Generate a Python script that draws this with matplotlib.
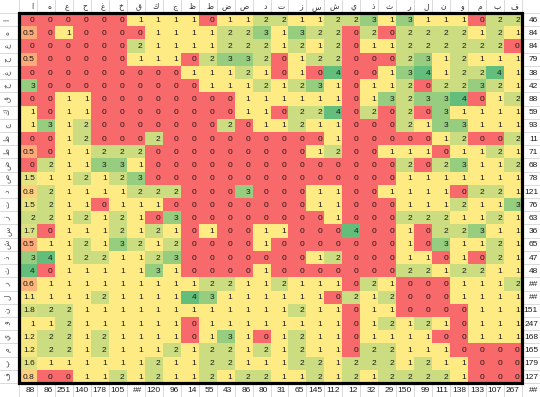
import numpy as np
import matplotlib
matplotlib.use("Agg")
import matplotlib.pyplot as plt
from matplotlib.colors import LinearSegmentedColormap, TwoSlopeNorm
from matplotlib.patches import Rectangle

col_letters = ['ا', 'ه', 'ع', 'ح', 'غ', 'خ', 'ق', 'ك', 'ج', 'ظ', 'ط', 'ض', 'ص', 'د',
               'ت', 'ز', 'س', 'ش', 'ي', 'ذ', 'ث', 'ر', 'ل', 'ن', 'و', 'م', 'ب', 'ف']
row_letters = ['ا', 'ه', 'ع', 'ح', 'غ', 'خ', 'ق', 'ك', 'ج', 'ظ', 'ط', 'ض', 'ص', 'د',
               'ت', 'ز', 'س', 'ش', 'ذ', 'ث', 'ر', 'ل', 'ن', 'و', 'ي', 'م', 'ب', 'ف']

counts = [
    [0, 0, 0, 0, 0, 0, 1, 1, 1, 1, 0, 1, 1, 2, 2, 1, 1, 2, 2, 3, 1, 3, 1, 1, 1, 0, 2, 2],
    [0.5, 0, 1, 0, 0, 0, 0, 1, 1, 1, 1, 2, 2, 3, 1, 3, 2, 2, 0, 2, 0, 2, 2, 2, 2, 1, 2, 1],
    [0, 0, 0, 0, 0, 0, 2, 1, 1, 1, 1, 2, 2, 2, 1, 2, 1, 2, 0, 1, 1, 2, 2, 2, 2, 2, 2, 0],
    [0.5, 0, 0, 0, 0, 0, 1, 1, 1, 0, 2, 3, 3, 2, 0, 1, 2, 2, 0, 0, 0, 2, 3, 1, 2, 1, 1, 1],
    [0, 0, 0, 0, 0, 0, 0, 0, 0, 1, 1, 1, 2, 1, 0, 1, 0, 4, 0, 0, 1, 3, 4, 1, 2, 2, 4, 1],
    [3, 0, 0, 0, 0, 0, 0, 0, 0, 0, 1, 1, 1, 2, 1, 2, 3, 1, 0, 1, 1, 2, 0, 2, 2, 3, 2, 1],
    [0, 0, 1, 1, 0, 0, 0, 0, 0, 0, 0, 0, 1, 1, 1, 1, 1, 1, 0, 1, 3, 2, 3, 3, 4, 0, 1, 2],
    [1, 0, 1, 1, 0, 0, 0, 0, 0, 0, 0, 0, 1, 1, 0, 2, 2, 4, 0, 2, 0, 2, 0, 3, 1, 1, 1, 1],
    [1, 3, 1, 2, 0, 0, 0, 0, 0, 0, 0, 2, 0, 1, 1, 2, 1, 1, 0, 0, 0, 2, 1, 3, 3, 1, 1, 1],
    [0, 0, 1, 2, 0, 0, 0, 2, 0, 0, 0, 0, 0, 0, 0, 0, 0, 1, 0, 0, 0, 0, 0, 1, 2, 0, 0, 2],
    [0.5, 0, 1, 1, 2, 2, 2, 0, 0, 0, 0, 0, 0, 0, 0, 0, 1, 2, 0, 0, 1, 1, 1, 0, 1, 1, 2, 1],
    [0, 2, 1, 1, 3, 3, 1, 0, 0, 0, 0, 0, 0, 0, 0, 0, 0, 0, 0, 0, 0, 2, 0, 2, 3, 1, 1, 2],
    [1.5, 1, 1, 2, 1, 2, 3, 0, 0, 0, 0, 0, 0, 0, 0, 0, 0, 0, 0, 0, 0, 1, 1, 1, 1, 1, 1, 1],
    [0.8, 2, 1, 1, 1, 1, 2, 2, 2, 0, 0, 0, 3, 0, 0, 0, 1, 1, 0, 0, 1, 1, 1, 1, 0, 2, 2, 1],
    [1.5, 2, 1, 1, 0, 1, 1, 1, 0, 0, 0, 0, 0, 0, 0, 0, 1, 1, 0, 0, 0, 1, 1, 1, 2, 1, 1, 3],
    [2, 2, 1, 2, 1, 2, 1, 0, 3, 0, 0, 0, 0, 0, 0, 0, 0, 1, 0, 0, 0, 2, 2, 2, 1, 1, 2, 1],
    [1.7, 0, 1, 1, 1, 2, 1, 2, 1, 0, 1, 0, 0, 1, 1, 0, 0, 0, 4, 0, 0, 1, 0, 2, 2, 3, 1, 1],
    [0.5, 1, 1, 2, 1, 3, 2, 1, 2, 0, 0, 0, 0, 1, 0, 0, 0, 0, 0, 0, 0, 1, 0, 3, 1, 1, 2, 1],
    [3, 4, 1, 2, 2, 1, 1, 2, 3, 0, 0, 0, 0, 0, 0, 0, 1, 2, 0, 0, 0, 1, 1, 0, 1, 0, 2, 1],
    [4, 0, 1, 1, 1, 1, 1, 3, 1, 0, 0, 0, 0, 1, 0, 0, 0, 0, 0, 0, 0, 2, 2, 1, 2, 2, 1, 1],
    [0.6, 1, 1, 1, 1, 1, 1, 1, 1, 1, 2, 2, 1, 1, 2, 1, 1, 1, 0, 2, 1, 0, 0, 0, 1, 1, 1, 2],
    [1.1, 1, 1, 1, 2, 1, 1, 1, 1, 4, 3, 1, 1, 1, 1, 1, 1, 0, 2, 1, 2, 0, 0, 0, 1, 1, 1, 1],
    [1.8, 2, 2, 1, 1, 1, 1, 1, 1, 1, 1, 1, 1, 1, 1, 2, 1, 1, 0, 1, 1, 0, 0, 0, 0, 1, 1, 1],
    [1, 1, 2, 1, 1, 1, 1, 1, 1, 0, 1, 1, 1, 1, 1, 1, 1, 1, 0, 1, 2, 1, 2, 1, 0, 1, 1, 1],
    [1.2, 2, 2, 1, 2, 1, 1, 1, 1, 0, 1, 3, 1, 0, 1, 2, 1, 1, 0, 1, 1, 1, 1, 0, 0, 1, 1, 1],
    [1.2, 2, 2, 1, 2, 1, 1, 1, 2, 1, 2, 2, 1, 2, 1, 2, 1, 1, 0, 2, 2, 1, 1, 1, 0, 0, 0, 0],
    [1.6, 1, 1, 1, 1, 1, 1, 2, 1, 1, 2, 2, 1, 1, 1, 2, 2, 1, 2, 2, 2, 1, 2, 1, 1, 0, 0, 0],
    [0.8, 0, 0, 1, 1, 2, 1, 2, 1, 1, 2, 1, 2, 2, 1, 1, 2, 1, 2, 1, 2, 2, 2, 2, 1, 0, 0, 0],
]

row_totals = ['46', '84', '84', '79', '38', '42', '88', '59', '93', '11', '71', '68', '78', '121',
              '76', '63', '36', '65', '47', '48', '##', '##', '151', '247', '168', '165', '179', '127']
col_totals = ['88', '86', '251', '140', '178', '105', '##', '120', '96', '14', '55', '43', '86', '80',
              '31', '65', '145', '112', '12', '32', '29', '150', '99', '111', '138', '133', '107', '267']
corner_total = '##'

vals = np.array(counts, dtype=float)
n_rows, n_cols = vals.shape

# spreadsheet geometry (pixels)
cw = 503 / n_cols
rh = 370 / n_rows
left = 19 / cw
right = 18 / cw
top = 13 / rh
bottom = 14 / rh

fig = plt.figure(figsize=(5.4, 3.97), dpi=100)
ax = fig.add_axes([0, 0, 1, 1])
ax.set_xlim(-left, n_cols + right)
ax.set_ylim(n_rows + bottom, -top)
ax.axis('off')

# light excel gridlines
grid_color = '#d4d4d4'
for x in range(0, n_cols + 1):
    ax.plot([x, x], [-top, n_rows + bottom], color=grid_color, lw=0.6, zorder=0)
for y in range(0, n_rows + 1):
    ax.plot([-left, n_cols + right], [y, y], color=grid_color, lw=0.6, zorder=0)

# excel 3-colour scale
cmap = LinearSegmentedColormap.from_list('excel', ['#F8696B', '#FFEB84', '#63BE7B'])
norm = TwoSlopeNorm(vmin=0, vcenter=1, vmax=4)
ax.pcolormesh(np.arange(n_cols + 1), np.arange(n_rows + 1), vals,
              cmap=cmap, norm=norm, zorder=1)

num_font = dict(family='Liberation Sans', fontsize=6, color='#1a1a1a')
pad = 0.12

for i in range(n_rows):
    for j in range(n_cols):
        v = vals[i, j]
        s = str(int(v)) if v == int(v) else str(v)
        ax.text(j + 1 - pad, i + 0.55, s, ha='right', va='center', zorder=3, **num_font)

# border round the data block
ax.add_patch(Rectangle((0, 0), n_cols, n_rows, fill=False, ec='black', lw=2.3, zorder=4))

# column letters
for j, lab in enumerate(col_letters):
    ax.text(j + 1 - 0.2, -top / 2, lab, ha='right', va='center',
            fontsize=5.5, color='#333333', family='DejaVu Sans', zorder=3)

# row letters, turned
for i, lab in enumerate(row_letters):
    ax.text(-left + 7 / cw, i + 0.5, lab, ha='center', va='center', rotation=90,
            fontsize=5.5, color='#555555', family='DejaVu Sans', zorder=3)

# totals
for i, t in enumerate(row_totals):
    ax.text(n_cols + right - 2 / cw, i + 0.55, t, ha='right', va='center', zorder=3, **num_font)
for j, t in enumerate(col_totals):
    ax.text(j + 1 - pad, n_rows + bottom / 2 + 0.05, t, ha='right', va='center', zorder=3, **num_font)
ax.text(n_cols + right - 2 / cw, n_rows + bottom / 2 + 0.05, corner_total,
        ha='right', va='center', zorder=3, **num_font)

fig.savefig('out.png', dpi=100)
